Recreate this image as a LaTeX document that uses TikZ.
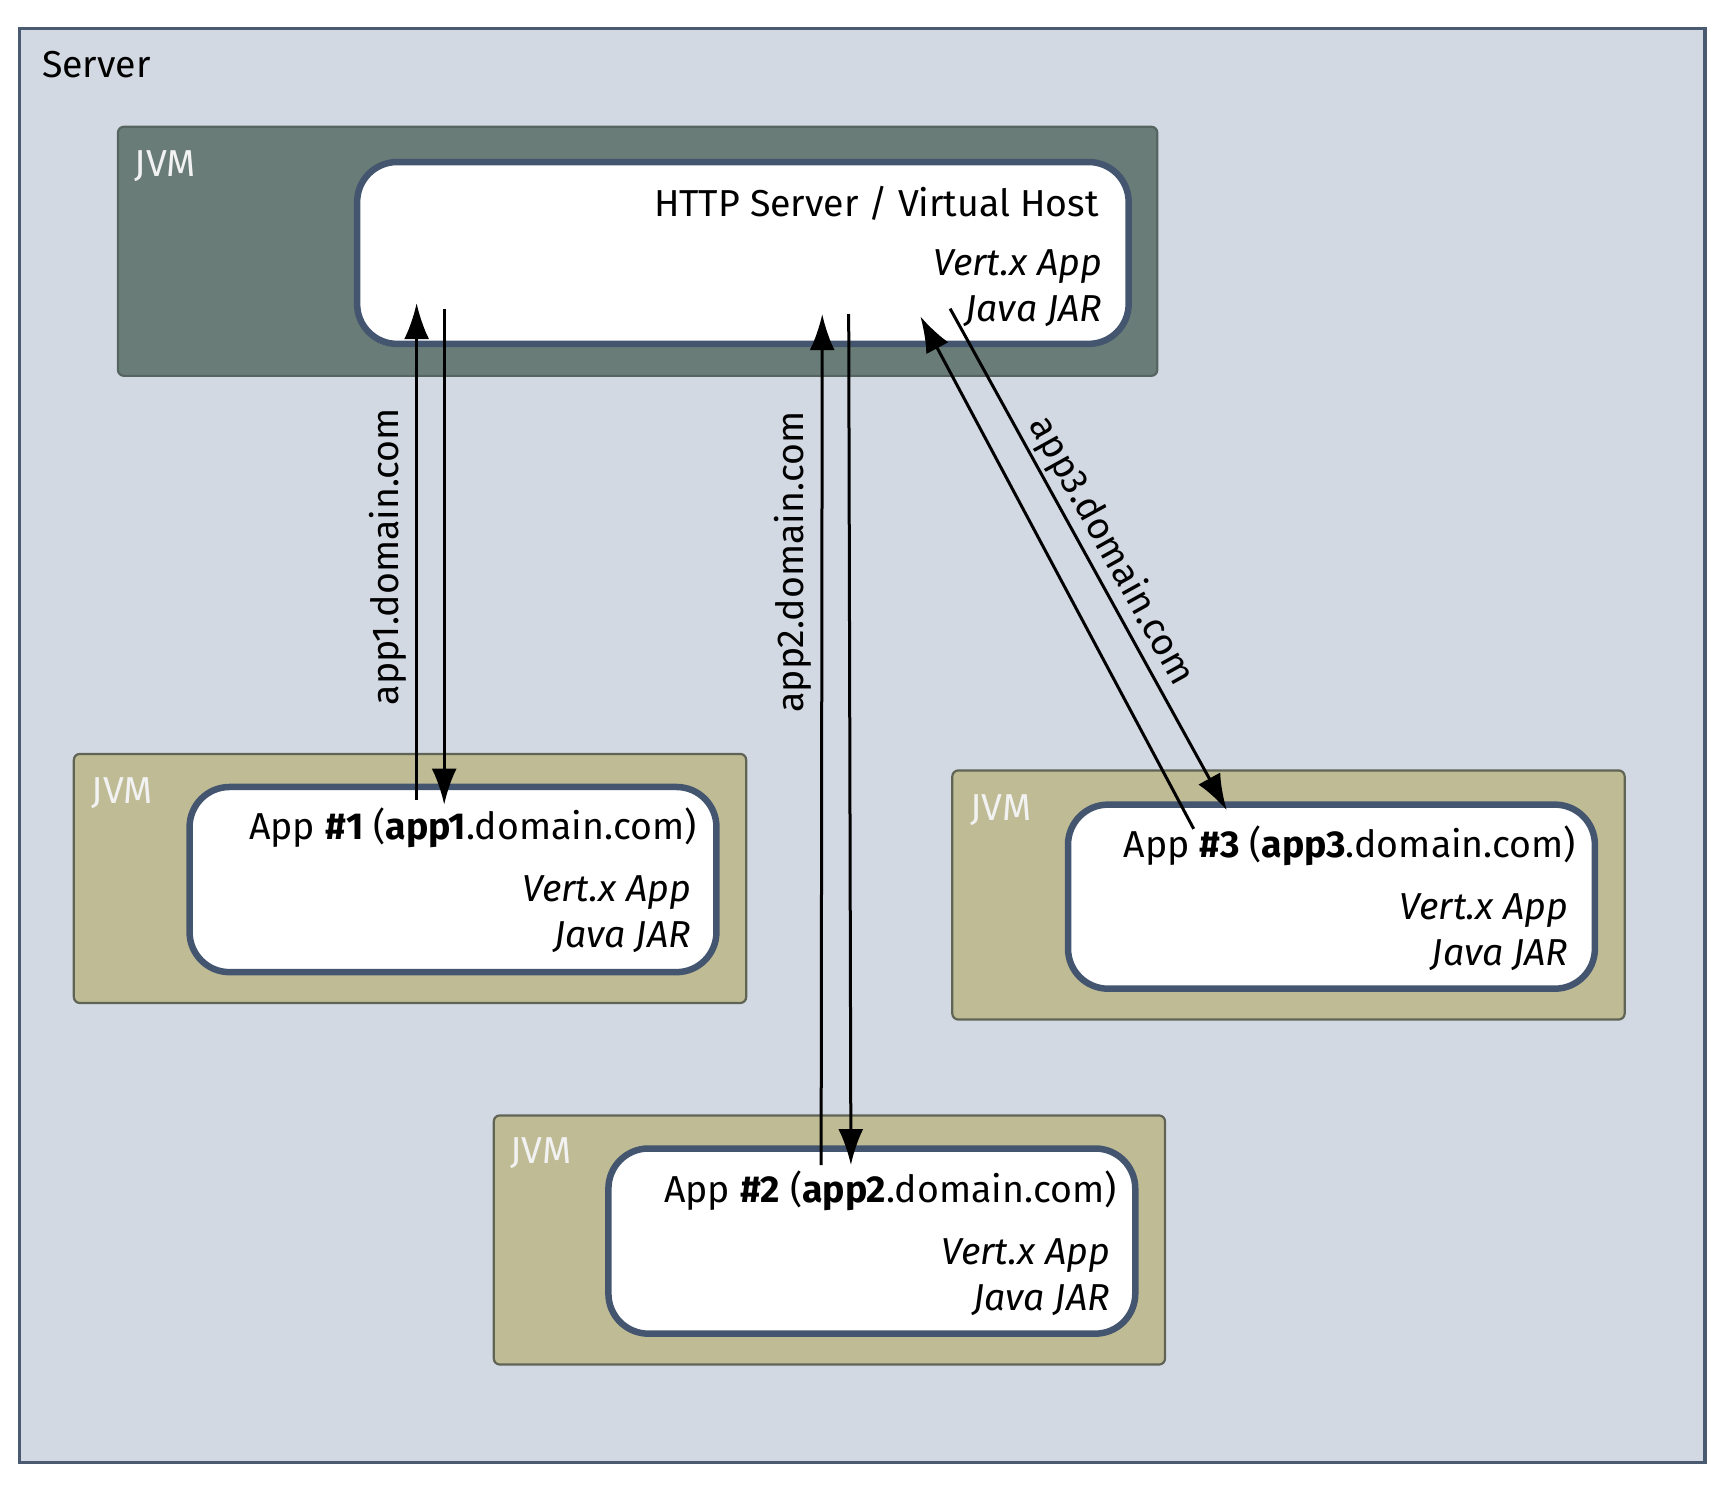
\documentclass[tikz,border=0pt]{standalone}
\usepackage{fontspec}
\setmainfont{Fira Sans}
\usetikzlibrary{arrows.meta}
\newdimen\pxu \pxu=1.1022pt
\definecolor{serverbg}{HTML}{D3D9E3}
\definecolor{serverline}{HTML}{4A5A70}
\definecolor{topjvmbg}{HTML}{697C77}
\definecolor{topjvmline}{HTML}{56655F}
\definecolor{jvmbg}{HTML}{BFBB95}
\definecolor{jvmline}{HTML}{5F6455}
\definecolor{appline}{HTML}{44566F}
\begin{document}
\begin{tikzpicture}[x=1.1022pt,y=-1.1022pt,
  font=\fontsize{37.5}{44}\selectfont,
  box/.style={rectangle, inner sep=0pt, outer sep=0pt, anchor=north west},
  serverbox/.style={box, fill=serverbg, draw=serverline, line width=3.3pt},
  topjvm/.style={box, fill=topjvmbg, draw=topjvmline, line width=2.2pt, rounded corners=6pt},
  jvmbox/.style={box, fill=jvmbg, draw=jvmline, line width=2.2pt, rounded corners=6pt},
  appbox/.style={box, fill=white, draw=appline, line width=6.5pt, rounded corners=40pt},
  lbl/.style={inner sep=0pt, anchor=base east},
  jvmlbl/.style={inner sep=0pt, anchor=base west, text=white!95!black},
  arr/.style={line width=3pt, -{Latex[length=36pt,width=25pt]}},
  conlbl/.style={inner sep=0pt}]
\useasboundingbox (0,0) rectangle (1565.05,1346.4);
% containers
\node[serverbox, minimum width=1529*\pxu, minimum height=1301*\pxu] (server) at (18,26) {};
\node[inner sep=0pt, anchor=base west] (serverlbl) at (38,70) {Server};
\node[topjvm, minimum width=943*\pxu, minimum height=226*\pxu] (jvm0) at (107,115) {};
\node[jvmlbl] (jvm0lbl) at (122,160) {JVM};
\node[appbox, minimum width=700*\pxu, minimum height=165*\pxu] (http) at (324,147) {};
\node[lbl] (httpt) at (997,196) {HTTP Server / Virtual Host};
\node[lbl] (httpv) at (1000,250) {\itshape Vert.x App};
\node[lbl] (httpj) at (1000,292) {\itshape Java JAR};
% app 1
\node[jvmbox, minimum width=610*\pxu, minimum height=226*\pxu] (jvm1) at (67,684) {};
\node[jvmlbl] (jvm1lbl) at (83,729) {JVM};
\node[appbox, minimum width=478*\pxu, minimum height=168*\pxu] (app1) at (172,714) {};
\node[lbl] (app1t) at (632,762) {App \textbf{\#1} (\textbf{app1}.domain.com)};
\node[lbl] (app1v) at (627,818) {\itshape Vert.x App};
\node[lbl] (app1j) at (627,860) {\itshape Java JAR};
% app 3
\node[jvmbox, minimum width=610*\pxu, minimum height=226*\pxu] (jvm3) at (864,699) {};
\node[jvmlbl] (jvm3lbl) at (880,744) {JVM};
\node[appbox, minimum width=478*\pxu, minimum height=167*\pxu] (app3) at (969,730) {};
\node[lbl] (app3t) at (1430,778) {App \textbf{\#3} (\textbf{app3}.domain.com)};
\node[lbl] (app3v) at (1423,834) {\itshape Vert.x App};
\node[lbl] (app3j) at (1423,876) {\itshape Java JAR};
% app 2
\node[jvmbox, minimum width=609*\pxu, minimum height=226*\pxu] (jvm2) at (448,1012) {};
\node[jvmlbl] (jvm2lbl) at (463,1056) {JVM};
\node[appbox, minimum width=478*\pxu, minimum height=168*\pxu] (app2) at (552,1042) {};
\node[lbl] (app2t) at (1013,1091) {App \textbf{\#2} (\textbf{app2}.domain.com)};
\node[lbl] (app2v) at (1007,1147) {\itshape Vert.x App};
\node[lbl] (app2j) at (1007,1189) {\itshape Java JAR};
% connector end points
\coordinate (a1up0) at (378,726);
\coordinate (a1up1) at (378,275);
\coordinate (a1dn0) at (403,280);
\coordinate (a1dn1) at (403,730);
\coordinate (a2up0) at (745,1057);
\coordinate (a2up1) at (746,285);
\coordinate (a2dn0) at (770,285);
\coordinate (a2dn1) at (772,1057);
\coordinate (a3up0) at (1083,752);
\coordinate (a3up1) at (835,287);
\coordinate (a3dn0) at (862,280);
\coordinate (a3dn1) at (1113,735);
% connectors
\draw[arr] (a1up0) -- (a1up1);
\draw[arr] (a1dn0) -- (a1dn1);
\draw[arr] (a2up0) -- (a2up1);
\draw[arr] (a2dn0) -- (a2dn1);
\draw[arr] (a3up0) -- (a3up1);
\draw[arr] (a3dn0) -- (a3dn1);
% connector labels
\node[conlbl, rotate=90] (l1) at (352,505) {app1.domain.com};
\node[conlbl, rotate=90] (l2) at (719,510) {app2.domain.com};
\node[conlbl, rotate=-61] (l3) at (1008,500) {app3.domain.com};
\end{tikzpicture}
\end{document}
